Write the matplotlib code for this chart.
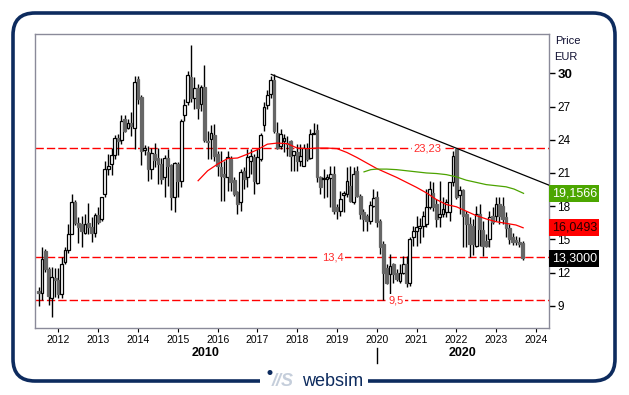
import numpy as np
import matplotlib
matplotlib.use('Agg')
import matplotlib.pyplot as plt
import matplotlib.patches as mpatches
import matplotlib.transforms as mtransforms

plt.rcParams['font.family'] = ['Liberation Sans', 'DejaVu Sans']

# monthly candles, first one July 2011
first_year = 2011 + 6 / 12

opens = [10.3, 10.2, 13.95, 12.3, 9.7, 11.5, 11.3, 10.1, 13.0, 14.0,
         15.5, 18.4, 16.5, 16.4, 15.6, 16.5, 16.1, 15.6, 17.2, 16.8,
         19.1, 21.4, 21.8, 22.65, 24.2, 24.0, 25.9, 25.1, 25.5, 25.1,
         29.5, 27.9, 23.1, 22.9, 21.35, 22.7, 22.35, 21.8, 20.6, 22.35,
         21.7, 18.8, 21.8, 20.3, 26.2, 27.45, 29.7, 27.8, 28.65, 27.2,
         28.75, 23.9, 24.05, 24.45, 22.7, 21.55, 20.9, 20.6, 22.25, 20.35,
         19.25, 18.35, 21.2, 20.6, 22.1, 22.4, 20.05, 22.25, 25.3, 27.1,
         28.15, 29.4, 24.6, 23.45, 23.9, 23.75, 23.85, 22.65, 22.85, 22.05,
         21.65, 23.15, 22.35, 24.5, 24.9, 20.6, 20.5, 20.45, 20.55, 20.95,
         17.95, 17.6, 19.0, 19.1, 19.85, 18.35, 21.2, 18.95, 17.45, 17.15,
         16.7, 18.05, 18.8, 16.7, 14.6, 12.45, 11.9, 12.75, 12.0, 11.25,
         12.0, 12.75, 11.05, 15.2, 15.8, 16.05, 16.25, 16.35, 17.9, 19.15,
         18.2, 17.0, 17.3, 17.45, 17.45, 20.15, 23.15, 19.05, 19.45, 17.3,
         16.4, 16.2, 14.45, 17.3, 15.85, 14.9, 15.05, 17.15, 17.15, 18.2,
         18.05, 17.0, 16.0, 15.2, 14.95, 14.8, 14.65]
highs = [10.7, 14.3, 14.1, 12.5, 12.5, 12.4, 12.4, 13.4, 14.3, 16.4,
         19.1, 18.6, 17.0, 17.1, 17.3, 18.3, 17.0, 17.4, 17.9, 18.8,
         22.1, 22.7, 23.3, 24.4, 24.5, 26.2, 26.2, 25.9, 26.5, 29.8,
         29.8, 28.0, 23.5, 23.4, 23.3, 23.7, 23.3, 22.35, 22.6, 23.2,
         21.8, 21.95, 21.95, 25.9, 27.7, 30.2, 32.55, 29.7, 29.0, 28.9,
         30.75, 24.8, 25.3, 25.4, 23.0, 23.0, 22.1, 23.0, 22.5, 20.6,
         19.4, 21.35, 21.5, 23.15, 23.15, 22.7, 23.15, 24.65, 27.4, 28.5,
         29.8, 29.9, 25.6, 24.95, 24.5, 24.35, 23.95, 23.0, 23.6, 23.6,
         23.6, 23.75, 24.95, 25.5, 25.4, 20.75, 21.35, 20.9, 21.65, 21.65,
         18.2, 19.4, 19.4, 21.5, 21.65, 21.5, 21.65, 19.1, 17.75, 17.3,
         18.5, 19.55, 19.4, 16.85, 14.9, 12.8, 13.7, 12.9, 12.3, 12.75,
         13.5, 13.5, 15.2, 16.25, 17.15, 16.95, 17.6, 19.55, 20.3, 20.15,
         18.65, 20.3, 18.8, 18.65, 20.15, 23.0, 23.23, 19.85, 19.55, 17.6,
         17.05, 16.85, 18.05, 18.2, 16.7, 15.5, 17.6, 17.9, 18.8, 18.8,
         18.8, 17.45, 16.4, 15.6, 15.35, 15.2, 14.9]
lows = [9.0, 9.5, 12.1, 9.1, 8.0, 9.8, 9.7, 9.7, 12.8, 13.8,
        15.5, 16.3, 14.7, 14.3, 15.5, 15.5, 14.8, 15.2, 16.4, 16.7,
        18.8, 20.8, 20.8, 22.3, 22.6, 23.6, 24.7, 25.0, 24.3, 23.2,
        27.2, 21.7, 22.6, 20.3, 20.45, 21.5, 20.0, 20.0, 18.85, 19.85,
        17.7, 17.5, 18.8, 19.7, 25.7, 27.1, 27.4, 26.8, 25.9, 26.6,
        23.8, 22.3, 22.3, 22.1, 20.75, 18.5, 18.5, 19.4, 19.4, 18.95,
        17.3, 17.6, 19.55, 19.7, 20.9, 19.1, 20.0, 22.1, 24.8, 26.8,
        27.8, 24.6, 23.2, 23.15, 22.85, 22.55, 21.2, 21.2, 21.2, 21.65,
        21.65, 22.1, 22.25, 24.5, 20.15, 19.1, 18.75, 18.8, 17.9, 17.3,
        16.85, 17.15, 17.45, 18.8, 18.35, 18.2, 18.8, 16.85, 15.8, 15.8,
        16.4, 17.9, 16.1, 13.7, 9.5, 11.0, 10.05, 11.1, 11.25, 11.1,
        11.85, 10.7, 10.8, 14.4, 14.4, 14.7, 15.2, 16.1, 17.75, 17.6,
        16.1, 16.1, 17.0, 17.0, 16.7, 19.85, 18.65, 17.3, 14.3, 14.3,
        13.45, 13.55, 14.3, 14.45, 13.5, 14.3, 14.3, 16.4, 16.7, 16.4,
        16.4, 15.2, 14.6, 14.5, 14.5, 14.3, 13.15]
closes = [10.2, 13.2, 12.3, 9.9, 11.6, 11.3, 10.1, 12.8, 14.0, 15.5,
          18.4, 16.5, 16.1, 15.8, 16.4, 16.1, 15.6, 17.2, 16.6, 18.8,
          21.4, 21.6, 22.65, 24.2, 23.85, 25.7, 24.8, 25.5, 25.2, 29.2,
          27.7, 23.0, 23.3, 21.35, 22.8, 22.2, 21.8, 20.45, 22.35, 21.65,
          18.8, 21.9, 20.3, 25.65, 27.15, 29.85, 27.8, 28.65, 26.9, 28.8,
          23.95, 23.8, 24.65, 22.5, 21.6, 20.75, 20.65, 22.4, 20.15, 19.1,
          18.2, 21.1, 20.45, 22.4, 22.55, 20.3, 22.4, 24.45, 27.0, 28.05,
          29.4, 24.8, 23.3, 24.5, 24.15, 23.65, 22.5, 22.95, 22.1, 22.55,
          23.3, 22.25, 24.5, 24.6, 20.65, 19.7, 20.55, 20.6, 20.9, 17.6,
          17.55, 18.65, 19.15, 20.3, 18.5, 20.95, 18.95, 17.3, 16.85, 16.7,
          18.15, 18.7, 16.55, 14.3, 12.0, 11.1, 12.6, 11.85, 11.4, 12.0,
          12.75, 11.05, 15.0, 15.8, 16.15, 16.25, 17.15, 17.9, 19.55, 17.9,
          16.85, 17.3, 17.75, 18.35, 20.15, 22.5, 18.85, 19.45, 17.15, 16.4,
          14.6, 14.6, 17.3, 15.95, 14.45, 14.45, 17.0, 16.55, 18.2, 17.15,
          16.85, 16.0, 15.05, 14.8, 14.75, 14.6, 13.3]

# moving averages
red_ma_x = [2015.51, 2015.75, 2016.0, 2016.25, 2016.5, 2016.75, 2017.0, 2017.25,
            2017.5, 2017.75, 2018.0, 2018.25, 2018.5, 2018.75, 2019.0, 2019.25,
            2019.5, 2019.75, 2020.0, 2020.25, 2020.5, 2020.75, 2021.0, 2021.25,
            2021.5, 2021.75, 2022.0, 2022.25, 2022.5, 2022.75, 2023.0, 2023.25,
            2023.5, 2023.68]
red_ma_y = [20.3, 21.2, 21.8, 22.3, 22.35, 22.7, 23.1, 23.6,
            23.7, 23.65, 23.25, 23.2, 23.25, 23.25, 23.2, 22.85,
            22.4, 21.9, 21.4, 21.0, 20.6, 20.15, 19.7, 19.2,
            18.6, 18.15, 17.95, 17.55, 17.15, 16.85, 16.6, 16.45,
            16.3, 16.05]
green_ma_x = [2019.68, 2019.85, 2020.0, 2020.25, 2020.5, 2020.75, 2021.0, 2021.25,
              2021.5, 2021.75, 2022.0, 2022.25, 2022.5, 2022.75, 2023.0, 2023.25,
              2023.45, 2023.69]
green_ma_y = [21.1, 21.3, 21.35, 21.35, 21.3, 21.2, 21.1, 21.0,
              20.95, 20.85, 20.65, 20.35, 20.15, 19.95, 19.85, 19.75,
              19.55, 19.16]

trend_x = [2017.35, 2024.33]
trend_y = [29.9, 19.9]

levels = [23.23, 13.4, 9.5]
level_labels = ['23,23', '13,4', '9,5']

last_values = [19.1566, 16.0493, 13.3000]
last_labels = ['19,1566', '16,0493', '13,3000']

navy = '#0d2b5e'

fig = plt.figure(figsize=(6.29, 3.95), dpi=100)
ax = fig.add_axes([35 / 629, 67 / 395, 514 / 629, 294 / 395])

o = np.array(opens)
h = np.array(highs)
l = np.array(lows)
c = np.array(closes)
x = first_year + np.arange(len(c)) / 12

up = c >= o
faces = np.where(up, 'white', '#666666')
edges = np.where(up, 'black', '#666666')

ax.vlines(x, l, h, color='black', lw=1.0, zorder=2)
ax.bar(x, np.abs(c - o), bottom=np.minimum(o, c), width=0.07,
       color=faces, edgecolor=edges, linewidth=0.9, zorder=3)

# support / resistance
xpos = [2021.27, 2018.89, 2020.48]
for lev, lab, xp in zip(levels, level_labels, xpos):
    ax.axhline(lev, color='#ff0000', ls=(0, (6, 2.2)), lw=1.0, zorder=1)
    ax.text(xp, lev, lab, color='#ff2a2a', fontsize=8, ha='center', va='center',
            bbox=dict(fc='white', ec='none', pad=1), zorder=4)

ax.plot(red_ma_x, red_ma_y, color='#ff0000', lw=0.9, zorder=4)
ax.plot(green_ma_x, green_ma_y, color='#4ca300', lw=0.9, zorder=4)
ax.plot(trend_x, trend_y, color='black', lw=0.9, zorder=4)

ax.set_xlim(2011.41, 2024.33)
ax.set_ylim(7.0, 33.55)

for s in ax.spines.values():
    s.set_color('#8a8a99')
    s.set_linewidth(1)

ax.yaxis.tick_right()
ax.set_yticks(range(9, 31, 3))
ax.tick_params(axis='y', length=4, width=1, color='black', pad=2, labelsize=8.5)
ylabs = ax.get_yticklabels()
ylabs[-1].set_fontweight('bold')
ylabs[-1].set_fontsize(9.5)

ax.set_xticks(range(2012, 2025))
ax.tick_params(axis='x', length=3, width=0.8, color='black', pad=2, labelsize=7.5)

trans = mtransforms.blended_transform_factory(ax.transData, ax.transAxes)
ax.text((2011.41 + 2020) / 2, -0.085, '2010', transform=trans, ha='center', va='center',
        fontsize=9, fontweight='bold')
ax.text((2020 + 2024.33) / 2, -0.085, '2020', transform=trans, ha='center', va='center',
        fontsize=9, fontweight='bold')
ax.plot([2020, 2020], [-0.068, -0.12], transform=trans, color='black', lw=1, clip_on=False)

ax.text(1.012, 0.976, 'Price', transform=ax.transAxes, fontsize=8, ha='left', va='center',
        color='#111133')
ax.text(1.01, 0.922, 'EUR', transform=ax.transAxes, fontsize=8, ha='left', va='center',
        color='#111133')

tr2 = mtransforms.blended_transform_factory(ax.transAxes, ax.transData)
box_colors = ['#4ca600', '#ff0000', '#000000']
txt_colors = ['white', '#220000', 'white']
for v, lab, bc, tc in zip(last_values, last_labels, box_colors, txt_colors):
    ax.text(1.005, v, lab, transform=tr2, ha='left', va='center', fontsize=9,
            color=tc, clip_on=False,
            bbox=dict(boxstyle='square,pad=0.2', fc=bc, ec='none'))

# outer rounded frame and logo
frame = mpatches.FancyBboxPatch((0.13, 0.14), 6.02, 3.68,
                                boxstyle='round,pad=0,rounding_size=0.22',
                                transform=fig.dpi_scale_trans, fill=False,
                                ec=navy, lw=2.6)
fig.add_artist(frame)
gap = mpatches.Rectangle((2.60, 0.05), 1.08, 0.17, transform=fig.dpi_scale_trans,
                         fc='white', ec='none', zorder=5)
fig.add_artist(gap)
dot = mpatches.Circle((2.70, 0.225), 0.025, transform=fig.dpi_scale_trans,
                      fc=navy, ec='none', zorder=6)
fig.add_artist(dot)
fig.text(2.72, 0.135, '//S', transform=fig.dpi_scale_trans, fontsize=13,
         fontstyle='italic', fontweight='bold', color='#c5cedb', ha='left', va='center', zorder=6)
fig.text(3.02, 0.13, 'websim', transform=fig.dpi_scale_trans, fontsize=13,
         color=navy, ha='left', va='center', zorder=6)

fig.savefig('out.png', dpi=100)
